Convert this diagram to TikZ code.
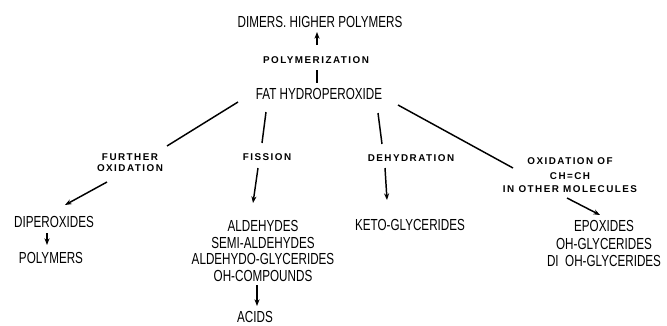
\documentclass[tikz,border=0pt]{standalone}
\usepackage{fontspec}
\setmainfont{Liberation Sans}[FakeStretch=0.73]
\newfontfamily\labfont{Liberation Sans}[LetterSpace=15]
\usetikzlibrary{arrows.meta}
\begin{document}
\begin{tikzpicture}[x=0.75pt,y=-0.75pt,
  prod/.style={font=\fontsize{12}{12.4}\selectfont, inner sep=0pt, align=center},
  lab/.style={font=\labfont\bfseries\fontsize{7.4}{8.3}\selectfont, inner sep=0pt, align=center},
  conn/.style={line width=1.1pt},
  arr/.style={line width=1.1pt, -{Stealth[length=5pt,width=3.8pt]}}]
\fill[white] (0,0) rectangle (667,325);
\useasboundingbox (0,0) rectangle (667,325);

\node[prod] (dimers) at (320,22) {DIMERS. HIGHER POLYMERS};
\node[lab] (poly) at (316,60.5) {POLYMERIZATION};
\node[prod] (fat) at (319,94) {FAT HYDROPEROXIDE};

\node[lab] (fo) at (130,162.5) {FURTHER\\OXIDATION};
\node[lab] (fis) at (267,157.5) {FISSION};
\node[lab] (deh) at (411,158) {DEHYDRATION};
\node[lab] (oxo) at (570,175) {OXIDATION OF\\[3pt]CH=CH\\[1pt]IN OTHER MOLECULES};

\node[prod] (dip) at (54,222) {DIPEROXIDES};
\node[prod] (polym) at (51,258) {POLYMERS};
\node[prod] (ald) at (263,251) {ALDEHYDES\\SEMI-ALDEHYDES\\ALDEHYDO-GLYCERIDES\\OH-COMPOUNDS};
\node[prod] (acids) at (255,317) {ACIDS};
\node[prod] (keto) at (410,225) {KETO-GLYCERIDES};
\node[prod, font=\fontsize{12}{13.1}\selectfont] (epo) at (604,243.5) {EPOXIDES\\OH-GLYCERIDES\\DI\ \ OH-GLYCERIDES};

% top
\draw[conn] ([shift={(1,9.5)}]poly.center) -- ([shift={(-2,-11)}]fat.center);
\draw[arr] ([shift={(1,-15.5)}]poly.center) -- ([shift={(-3,10)}]dimers.center);

% further oxidation branch
\draw[conn] ([shift={(-81,8)}]fat.center) -- ([shift={(37,-16.5)}]fo.center);
\draw[arr] ([shift={(-23,19.5)}]fo.center) -- ([shift={(11,-17)}]dip.center);
\draw[arr] ([shift={(-7,11)}]dip.center) -- ([shift={(-4,-13)}]polym.center);

% fission branch
\draw[conn] ([shift={(-53,18)}]fat.center) -- ([shift={(-5,-14.5)}]fis.center);
\draw[arr] ([shift={(-9,10.5)}]fis.center) -- ([shift={(-10,-48)}]ald.center);
\draw[arr] ([shift={(-6,34)}]ald.center) -- ([shift={(2,-11)}]acids.center);

% dehydration branch
\draw[conn] ([shift={(59,19)}]fat.center) -- ([shift={(-29,-14)}]deh.center);
\draw[arr] ([shift={(-26,10)}]deh.center) -- ([shift={(-23,-25)}]keto.center);

% oxidation of CH=CH branch
\draw[conn] ([shift={(79,11)}]fat.center) -- ([shift={(-57,-7)}]oxo.center);
\draw[arr] ([shift={(-3,23)}]oxo.center) -- ([shift={(-4,-28.5)}]epo.center);
\end{tikzpicture}
\end{document}
